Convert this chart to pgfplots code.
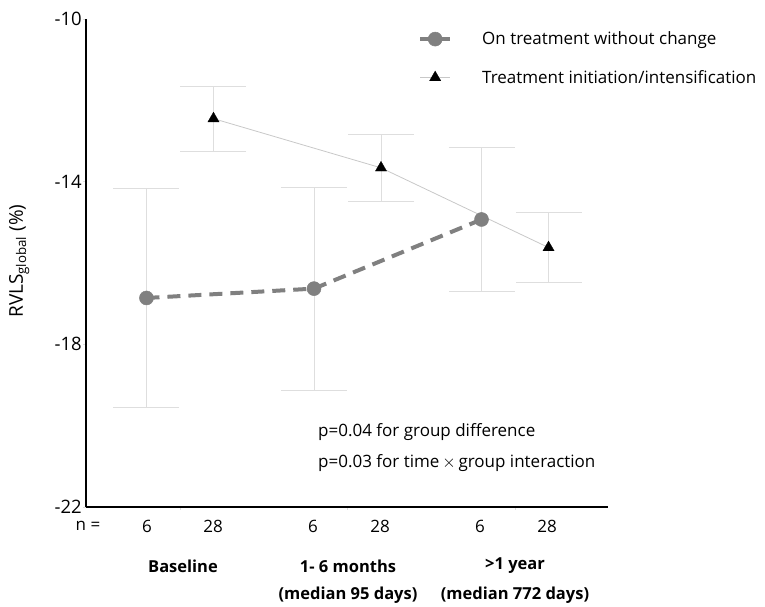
\documentclass[border=0pt]{standalone}
\usepackage{pgfplots}
\pgfplotsset{compat=1.18}
\usepackage{fontspec}
\setmainfont{Open Sans}
\definecolor{grayline}{RGB}{128,128,128}
\definecolor{errgray}{RGB}{222,222,222}
\definecolor{thinline}{RGB}{200,200,200}
\begin{document}
\begin{tikzpicture}
\path[use as bounding box] (-86bp,-100bp) rectangle (679bp,507bp);
\begin{axis}[
  at={(0,0)}, anchor=south west,
  scale only axis, width=522bp, height=488bp,
  xmin=0.439, xmax=3.555, ymin=-22, ymax=-10,
  axis x line=bottom, axis y line=left,
  x axis line style={-, line width=2.6bp},
  y axis line style={-, line width=2.6bp},
  xtick={1,2,3}, xticklabels={},
  ytick={-22,-18,-14,-10},
  yticklabels={-22,-18,-14,-10},
  tick align=outside, major tick length=3bp,
  x tick style={draw=errgray, line width=0.5bp},
  y tick style={draw=errgray, line width=0.6bp},
  yticklabel style={font=\fontsize{18.5bp}{20bp}\selectfont, inner sep=1bp},
  ylabel={RVLS\textsubscript{global} (\%)},
  ylabel style={at={(axis description cs:-0.128,0.504)}, anchor=center, font=\fontsize{19bp}{22bp}\selectfont},
  clip=false,
  legend style={at={(0.636,0.974)}, anchor=north west, draw=none, fill=none,
    font=\fontsize{17bp}{20bp}\selectfont, row sep=24bp, inner sep=0pt,
    nodes={inner sep=0pt},
    /tikz/every odd column/.append style={column sep=30bp}},
  legend cell align=left,
  legend image code/.code={\draw[mark repeat=2,mark phase=2,#1] plot coordinates {(0bp,0bp)(15bp,0bp)(30bp,0bp)};},
]
\addplot[color=grayline, line width=4bp, dash pattern=on 13bp off 8bp,
  mark=*, mark size=7bp, mark options={solid, fill=grayline, draw=grayline, line width=0.5bp},
  error bars/.cd, y dir=both, y explicit,
  error bar style={draw=errgray, line width=0.6bp, solid},
  error mark options={draw=errgray, line width=0.6bp, solid, mark size=33bp, rotate=90}]
  table[x=x, y=y, y error=e] {
  x    y       e
  0.8  -16.86  2.69
  1.8  -16.63  2.50
  2.8  -14.93  1.77
  };
\addlegendentry{On treatment without change}
\addplot[color=thinline, line width=0.8bp,
  mark=triangle*, mark size=6.5bp, mark options={solid, fill=black, draw=black, line width=0.3bp},
  error bars/.cd, y dir=both, y explicit,
  error bar style={draw=errgray, line width=0.6bp, solid},
  error mark options={draw=errgray, line width=0.6bp, solid, mark size=33bp, rotate=90}]
  table[x=x, y=y, y error=e] {
  x    y       e
  1.2  -12.45  0.80
  2.2  -13.66  0.83
  3.2  -15.62  0.86
  };
\addlegendentry{Treatment initiation/intensification}
\end{axis}
\begin{scope}[every node/.style={font=\fontsize{17bp}{20bp}\selectfont, inner sep=0pt}]
\node at (2bp,-19bp) {n =};
\node at (61bp,-19bp) {6};
\node at (127bp,-19bp) {28};
\node at (227bp,-19bp) {6};
\node at (294bp,-19bp) {28};
\node at (394bp,-19bp) {6};
\node at (461bp,-19bp) {28};
\node[font=\fontsize{16.5bp}{20bp}\selectfont\bfseries] at (97bp,-59bp) {Baseline};
\node[font=\fontsize{16.5bp}{20bp}\selectfont\bfseries] at (262bp,-59bp) {1- 6 months};
\node[font=\fontsize{16.5bp}{20bp}\selectfont\bfseries] at (262bp,-88bp) {(median 95 days)};
\node[font=\fontsize{16.5bp}{20bp}\selectfont\bfseries] at (429bp,-59bp) {>1 year};
\node[font=\fontsize{16.5bp}{20bp}\selectfont\bfseries] at (429bp,-88bp) {(median 772 days)};
\node[anchor=west] at (232bp,75bp) {p=0.04 for group difference};
\node[anchor=west] at (232bp,44bp) {p=0.03 for time\,$\times$\,group interaction};
\end{scope}
\end{tikzpicture}
\end{document}
